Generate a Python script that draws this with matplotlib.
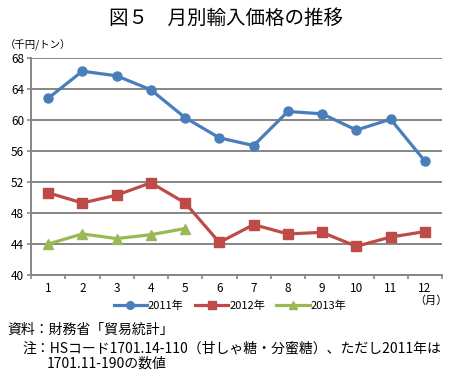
import matplotlib
matplotlib.use("Agg")
import matplotlib.pyplot as plt

plt.rcParams['font.family'] = ['Noto Sans CJK JP', 'DejaVu Sans']

# data (千円/トン)
months = ["1", "2", "3", "4", "5", "6", "7", "8", "9", "10", "11", "12"]
y2011 = [62.8, 66.3, 65.7, 63.9, 60.3, 57.7, 56.7, 61.1, 60.8, 58.7, 60.1, 54.7]
y2012 = [50.6, 49.3, 50.3, 51.9, 49.3, 44.2, 46.5, 45.3, 45.5, 43.7, 44.9, 45.6]
y2013 = [44.0, 45.3, 44.7, 45.2, 46.0]
yticks = [40, 44, 48, 52, 56, 60, 64, 68]

fig = plt.figure(figsize=(4.52, 3.76), dpi=100)
ax = fig.add_axes([31 / 452, 1 - 275 / 376, 411 / 452, 217 / 376])

x = list(range(len(months)))
ax.plot(x, y2011, color="#4A7EBB", lw=2.3, marker="o", ms=6.5, label="2011年", zorder=3)
ax.plot(x, y2012, color="#BE4B48", lw=2.3, marker="s", ms=6.5, label="2012年", zorder=3)
ax.plot(x[:len(y2013)], y2013, color="#98B954", lw=2.3, marker="^", ms=7, label="2013年", zorder=3)

ax.set_xlim(-0.5, 11.5)
ax.set_ylim(40, 68)
ax.set_yticks(yticks)
ax.set_yticklabels([str(v) for v in yticks], fontsize=8.5)
ax.set_xticks(x)
ax.set_xticklabels(months, fontsize=8.5)
ax.set_xticks([i - 0.5 for i in range(13)], minor=True)
ax.tick_params(axis="x", which="major", length=0, pad=5)
ax.tick_params(axis="x", which="minor", length=3, color="#868686", width=1.2)
ax.tick_params(axis="y", length=3, color="#868686", width=1.2, pad=2)

ax.grid(axis="y", color="#868686", lw=1.4)
ax.set_axisbelow(True)
for s in ["top", "right"]:
    ax.spines[s].set_visible(False)
for s in ["left", "bottom"]:
    ax.spines[s].set_color("#868686")
    ax.spines[s].set_linewidth(1.4)

fig.text(0.5, 1 - 18 / 376, "図５　月別輸入価格の推移", ha="center", va="center", fontsize=14)
fig.text(5 / 452, 1 - 45 / 376, "（千円/トン）", ha="left", va="center", fontsize=7.5)
fig.text(431 / 452, 1 - 301 / 376, "（月）", ha="center", va="center", fontsize=8)

ax.legend(loc="center", bbox_to_anchor=(230 / 452, 1 - 306 / 376), bbox_transform=fig.transFigure,
          ncol=3, frameon=False, fontsize=8, handlelength=3.0, columnspacing=1.0, handletextpad=0.1,
          markerscale=0.85)

fig.text(7 / 452, 1 - 330 / 376, "資料：財務省「貿易統計」", ha="left", va="center", fontsize=10)
fig.text(22 / 452, 1 - 348 / 376, "注：HSコード1701.14-110（甘しゃ糖・分蜜糖）、ただし2011年は",
         ha="left", va="center", fontsize=10)
fig.text(47 / 452, 1 - 364 / 376, "1701.11-190の数値", ha="left", va="center", fontsize=10)

fig.savefig("out.png", dpi=100)
